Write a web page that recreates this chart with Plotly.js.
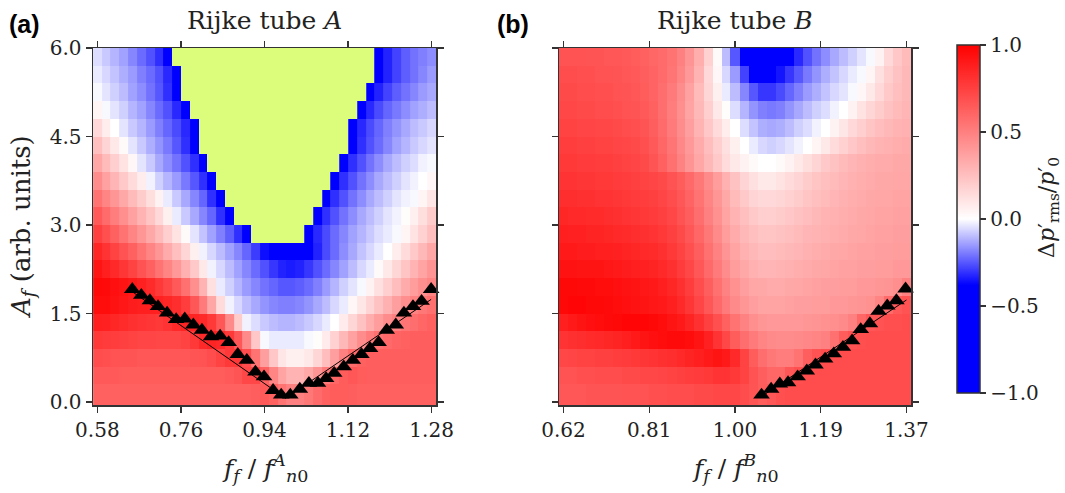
<!DOCTYPE html>
<html><head><meta charset="utf-8">
<script src="https://cdn.plot.ly/plotly-3.0.1.min.js"></script>
<style>html,body{margin:0;padding:0;background:#fff}#chart{width:1065px;height:493px}</style>
</head><body><div id="chart"></div>
<script>
// U marks cells below the colour range (drawn yellow-green)
const U = -150;
// column centres (forcing frequency ratio)
const xA = [0.580,0.598,0.617,0.635,0.654,0.672,0.691,0.709,0.727,0.746,0.764,0.783,0.801,0.819,0.838,0.856,0.875,0.893,0.912,0.930,0.948,0.967,0.985,1.004,1.022,1.041,1.059,1.077,1.096,1.114,1.133,1.151,1.169,1.188,1.206,1.225,1.243,1.262,1.280];
const xB = [0.620,0.640,0.659,0.679,0.699,0.719,0.738,0.758,0.778,0.798,0.817,0.837,0.857,0.877,0.896,0.916,0.936,0.956,0.975,0.995,1.015,1.035,1.054,1.074,1.094,1.113,1.133,1.153,1.173,1.192,1.212,1.232,1.252,1.271,1.291,1.311,1.331,1.350,1.370];
// row edges (forcing amplitude), bottom to top
const yEdges = [-0.05,0.3,0.6,0.9,1.2,1.5,1.8,2.1,2.4,2.7,3.0,3.3,3.6,3.9,4.2,4.5,4.8,5.1,5.4,5.7,6.0];
// Delta p'rms / p'0 in hundredths, rows listed from top (A=5.85) to bottom (A=0.15)
const zA = [
[-5,-8,-11,-14,-18,-22,-26,-31,-45,U,U,U,U,U,U,U,U,U,U,U,U,U,U,U,U,U,U,U,U,U,U,U,-45,-33,-28,-24,-21,-19,-17],
[-3,-6,-9,-12,-15,-19,-22,-26,-32,-45,U,U,U,U,U,U,U,U,U,U,U,U,U,U,U,U,U,U,U,U,U,U,-45,-33,-28,-24,-21,-18,-15],
[-1,-4,-7,-10,-14,-17,-21,-25,-31,-45,U,U,U,U,U,U,U,U,U,U,U,U,U,U,U,U,U,U,U,U,U,-45,-33,-28,-24,-21,-18,-15,-13],
[4,-1,-4,-7,-11,-14,-18,-22,-26,-32,-45,U,U,U,U,U,U,U,U,U,U,U,U,U,U,U,U,U,U,U,-45,-32,-27,-23,-20,-17,-14,-12,-10],
[15,7,0,-4,-8,-11,-15,-19,-23,-27,-32,-45,U,U,U,U,U,U,U,U,U,U,U,U,U,U,U,U,U,-45,-32,-27,-23,-19,-16,-13,-10,-8,-6],
[25,17,9,2,-4,-8,-12,-16,-20,-25,-31,-45,U,U,U,U,U,U,U,U,U,U,U,U,U,U,U,U,U,-45,-31,-26,-22,-18,-14,-11,-8,-6,-4],
[35,27,19,11,3,-4,-8,-13,-17,-21,-26,-31,-45,U,U,U,U,U,U,U,U,U,U,U,U,U,U,U,-45,-31,-26,-21,-17,-13,-10,-7,-5,-2,-1],
[45,37,29,21,14,7,-2,-7,-11,-15,-20,-25,-31,-45,U,U,U,U,U,U,U,U,U,U,U,U,U,-45,-31,-26,-21,-17,-13,-10,-7,-4,-2,0,3],
[55,48,41,34,27,20,13,5,-3,-8,-13,-18,-23,-31,-45,U,U,U,U,U,U,U,U,U,U,U,-45,-31,-26,-21,-17,-13,-10,-7,-4,-2,-1,4,10],
[65,58,51,44,37,30,23,15,6,-3,-8,-13,-18,-23,-31,-45,U,U,U,U,U,U,U,U,U,-45,-31,-26,-21,-17,-13,-10,-7,-4,-2,1,6,13,20],
[75,69,62,55,48,41,34,27,19,11,2,-4,-9,-14,-19,-24,-31,-45,U,U,U,U,U,U,-45,-32,-27,-22,-18,-14,-11,-8,-5,-3,-1,4,11,18,25],
[85,80,74,68,62,55,48,41,33,25,16,6,-2,-6,-10,-14,-18,-23,-29,-36,-43,-47,-48,-46,-40,-33,-27,-22,-17,-13,-9,-6,-3,0,7,14,21,28,35],
[92,88,84,79,74,68,62,55,48,40,31,21,9,-2,-6,-10,-14,-18,-22,-26,-30,-33,-34,-33,-30,-26,-22,-18,-14,-10,-6,-3,2,9,16,23,30,36,42],
[97,96,94,92,90,87,83,78,72,65,56,44,30,12,-3,-7,-11,-15,-18,-21,-23,-25,-25,-24,-22,-19,-15,-11,-7,-4,-1,5,12,19,26,33,39,44,48],
[95,95,93,91,89,88,88,87,85,82,76,66,52,35,14,-2,-6,-10,-13,-16,-18,-19,-19,-18,-16,-13,-10,-6,-3,3,10,17,24,31,38,44,49,53,56],
[88,87,85,83,81,80,79,78,80,84,86,86,84,78,66,46,20,-2,-5,-8,-10,-11,-11,-10,-8,-6,-3,0,8,16,24,32,39,45,50,54,57,60,62],
[78,77,76,75,74,73,73,72,72,72,74,78,84,86,84,78,66,46,22,-1,-3,-3,-3,-3,-1,1,8,18,28,37,45,51,56,59,61,62,63,63,63],
[70,69,68,67,67,66,66,66,66,66,66,67,68,70,74,78,78,70,55,38,22,10,6,6,9,16,26,38,50,58,62,63,63,63,63,63,63,63,63],
[65,65,65,64,64,64,64,64,64,64,64,64,64,64,64,65,67,72,72,62,48,36,30,30,34,42,52,60,64,66,64,63,63,63,63,63,63,63,63],
[62,62,62,62,62,62,62,62,62,62,62,62,62,62,62,62,62,62,63,65,62,55,50,50,53,58,62,64,64,63,62,62,62,62,62,62,62,62,62]
];
const zB = [
[68,68,68,67,67,66,66,65,64,62,60,58,55,50,42,32,18,2,-10,-25,-45,-55,-55,-55,-50,-40,-32,-26,-21,-17,-13,-10,-7,-4,-1,5,15,22,27],
[70,70,69,69,68,68,67,66,65,63,61,58,54,48,40,30,15,3,-6,-15,-28,-38,-42,-40,-35,-30,-25,-20,-16,-12,-9,-6,-3,-1,4,12,19,24,28],
[71,71,70,70,69,69,68,67,66,64,61,57,52,45,37,27,16,6,-3,-10,-18,-25,-30,-30,-27,-23,-19,-15,-12,-9,-6,-4,-1,3,9,15,21,25,28],
[72,72,71,71,70,70,69,68,67,65,62,57,51,44,36,28,19,9,1,-5,-11,-16,-19,-20,-19,-16,-13,-10,-7,-5,-2,0,5,11,16,20,24,27,29],
[74,74,73,73,72,72,71,70,69,67,63,58,52,45,38,30,22,14,7,0,-5,-9,-12,-13,-12,-10,-7,-5,-2,0,5,10,15,19,23,26,28,30,31],
[76,76,75,75,74,74,73,72,71,69,65,60,54,47,40,33,26,19,12,6,0,-3,-6,-7,-6,-4,-2,0,4,9,14,18,22,25,28,30,31,32,33],
[78,78,77,77,76,76,75,74,73,71,67,62,56,49,42,35,28,21,14,9,5,2,0,0,2,5,9,13,17,21,24,27,29,31,32,33,33,34,34],
[80,80,79,79,78,78,77,76,75,74,73,71,68,64,59,53,46,39,31,24,17,12,9,9,11,14,17,20,23,25,27,29,31,32,33,34,34,35,35],
[82,82,81,81,80,80,79,78,77,76,75,73,70,66,61,55,48,41,34,27,21,17,15,15,16,18,20,23,25,27,29,31,32,33,34,35,35,36,36],
[85,84,84,83,83,82,81,80,79,78,77,75,72,68,63,57,50,43,36,30,25,21,19,19,20,22,24,26,28,30,31,32,33,34,35,36,36,37,37],
[88,87,87,86,86,85,84,83,82,81,80,78,75,71,66,60,53,46,39,33,28,25,23,23,24,25,27,29,30,31,32,33,34,35,36,37,37,38,38],
[90,90,89,89,88,88,87,86,85,84,83,81,78,74,69,63,56,49,42,36,31,28,26,26,27,28,29,31,32,33,34,35,36,37,37,38,38,39,39],
[93,93,92,92,92,91,90,89,88,87,86,84,81,77,72,66,59,52,45,39,34,31,29,29,30,31,32,33,34,35,36,37,37,38,38,39,39,40,40],
[97,97,96,96,95,95,94,93,92,91,90,88,85,81,76,70,63,56,49,43,38,35,34,33,33,34,35,36,37,38,38,39,39,40,40,41,42,44,50],
[97,98,98,97,97,96,95,94,93,92,91,90,88,84,79,73,66,59,52,46,41,38,36,36,36,37,38,38,39,39,40,40,41,42,43,48,58,65,68],
[88,90,92,94,95,96,97,98,98,98,97,95,92,90,86,81,75,69,62,55,49,44,41,40,40,40,40,41,42,43,44,46,50,60,66,68,69,69,70],
[80,81,82,83,84,85,86,88,90,92,94,95,96,96,95,92,87,80,72,64,57,52,48,46,45,45,46,47,48,50,56,64,68,69,70,70,70,70,70],
[72,73,74,74,75,75,76,77,78,79,80,81,82,84,86,88,90,92,90,84,74,64,57,53,51,51,55,63,68,70,70,70,70,70,70,70,70,70,70],
[68,68,69,69,70,70,70,71,71,72,72,73,74,75,76,77,78,80,80,78,74,68,63,60,60,66,69,70,70,70,70,70,70,70,70,70,70,70,70],
[66,66,66,67,67,67,67,68,68,68,69,69,70,70,70,71,71,72,72,72,70,67,64,66,69,70,70,70,70,70,70,70,70,70,70,70,70,70,70]
];
// bifurcation points (triangles)
const triAx = [0.653,0.672,0.690,0.707,0.726,0.745,0.763,0.781,0.799,0.818,0.837,0.855,0.874,0.893,0.911,0.929,0.948,0.965,0.984,1.004,1.023,1.042,1.059,1.076,1.096,1.115,1.133,1.151,1.169,1.186,1.205,1.222,1.241,1.259,1.279];
const triAy = [1.91,1.81,1.72,1.62,1.51,1.40,1.41,1.31,1.22,1.11,1.12,1.01,0.81,0.71,0.51,0.43,0.20,0.12,0.12,0.22,0.32,0.32,0.40,0.49,0.60,0.71,0.81,0.91,1.01,1.22,1.31,1.51,1.62,1.71,1.91];
const triBx = [1.053,1.074,1.093,1.111,1.132,1.152,1.171,1.192,1.211,1.231,1.251,1.270,1.290,1.309,1.328,1.348,1.368];
const triBy = [0.12,0.22,0.31,0.33,0.43,0.53,0.63,0.73,0.82,0.93,1.04,1.23,1.33,1.54,1.63,1.72,1.92];
// linear fits
const fitA1x = [0.653,0.975], fitA1y = [1.87,0.06];
const fitA2x = [0.990,1.279], fitA2y = [0.15,1.74];
const fitBx = [1.060,1.370], fitBy = [0.13,1.73];
// tick labels
const tickA = ['0.58','0.76','0.94','1.12','1.28'];
const tickB = ['0.62','0.81','1.00','1.19','1.37'];
const tickY = ['0.0','1.5','3.0','4.5','6.0'];
const tickC = ['\u22121.0','\u22120.5','0.0','0.5','1.0'];

const YG = '#dcfc7c';
const CS = [[0,'rgb(0,0,255)'],[0.31,'rgb(0,0,255)'],[0.5,'rgb(255,255,255)'],[1,'rgb(255,0,0)']];
function field(rows){ return rows.slice().reverse().map(r => r.map(v => v <= U ? null : v/100)); }
function under(rows){ return rows.slice().reverse().map(r => r.map(v => v <= U ? 1 : null)); }
function evenTicks(lo, hi, n){ const out=[]; for(let i=0;i<n;i++) out.push(lo+(hi-lo)*i/(n-1)); return out; }

const traces = [
  {type:'heatmap', x:xA, y:yEdges, z:field(zA), coloraxis:'coloraxis', xaxis:'x', yaxis:'y', hoverinfo:'skip'},
  {type:'heatmap', x:xA, y:yEdges, z:under(zA), colorscale:[[0,YG],[1,YG]], showscale:false, xaxis:'x', yaxis:'y', hoverinfo:'skip'},
  {type:'heatmap', x:xB, y:yEdges, z:field(zB), coloraxis:'coloraxis', xaxis:'x2', yaxis:'y2', hoverinfo:'skip'},
  {type:'scatter', mode:'lines', x:fitA1x, y:fitA1y, line:{color:'#000', width:1}, xaxis:'x', yaxis:'y'},
  {type:'scatter', mode:'lines', x:fitA2x, y:fitA2y, line:{color:'#000', width:1}, xaxis:'x', yaxis:'y'},
  {type:'scatter', mode:'lines', x:fitBx, y:fitBy, line:{color:'#000', width:1}, xaxis:'x2', yaxis:'y2'},
  {type:'scatter', mode:'markers', x:triAx, y:triAy, marker:{symbol:'triangle-up', size:14.5, color:'#000'}, cliponaxis:false, xaxis:'x', yaxis:'y'},
  {type:'scatter', mode:'markers', x:triBx, y:triBy, marker:{symbol:'triangle-up', size:14.5, color:'#000'}, cliponaxis:false, xaxis:'x2', yaxis:'y2'}
];

const W = 1065, H = 493;
const axBase = {ticks:'outside', ticklen:6, tickwidth:1.5, tickcolor:'#333', showline:true, linecolor:'#333', linewidth:1.5, mirror:'ticks', showgrid:false, zeroline:false, tickfont:{family:'DejaVu Serif', size:20, color:'#222'}};
const yDom = [1-405/H, 1-48/H];
const layout = {
  width:W, height:H, margin:{l:0,r:0,t:0,b:0}, paper_bgcolor:'#fff', plot_bgcolor:'#fff',
  showlegend:false, font:{family:'DejaVu Serif', size:20, color:'#222'},
  coloraxis:{cmin:-1, cmax:1, colorscale:CS, colorbar:{x:957/W, xanchor:'left', xpad:0, ypad:0, y:1-219/H, yanchor:'middle', len:348/H, lenmode:'fraction', thickness:23, thicknessmode:'pixels', outlinewidth:1.5, outlinecolor:'#333', ticks:'outside', ticklen:6, tickwidth:1.5, tickcolor:'#333', tickvals:[-1,-0.5,0,0.5,1], ticktext:tickC, tickfont:{family:'DejaVu Serif', size:20, color:'#222'}}},
  xaxis:Object.assign({}, axBase, {domain:[93/W, 436/W], range:[0.5708,1.2892], tickvals:evenTicks(0.58,1.28,5), ticktext:tickA, anchor:'y'}),
  yaxis:Object.assign({}, axBase, {domain:yDom, range:[-0.05,6.0], tickvals:[0,1.5,3,4.5,6], ticktext:tickY, anchor:'x'}),
  xaxis2:Object.assign({}, axBase, {domain:[559/W, 911/W], range:[0.6101,1.3799], tickvals:evenTicks(0.62,1.37,5), ticktext:tickB, anchor:'y2'}),
  yaxis2:Object.assign({}, axBase, {domain:yDom, range:[-0.05,6.0], tickvals:[0,1.5,3,4.5,6], showticklabels:false, anchor:'x2'}),
  annotations:[
    {text:'<b>(a)</b>', x:24/W, y:1-24/H, xref:'paper', yref:'paper', showarrow:false, xanchor:'center', yanchor:'middle', font:{family:'Liberation Sans', size:25, color:'#000'}},
    {text:'<b>(b)</b>', x:513/W, y:1-24/H, xref:'paper', yref:'paper', showarrow:false, xanchor:'center', yanchor:'middle', font:{family:'Liberation Sans', size:25, color:'#000'}},
    {text:'Rijke tube <i>A</i>', x:264.5/W, y:1-20/H, xref:'paper', yref:'paper', showarrow:false, xanchor:'center', yanchor:'middle', font:{size:25}},
    {text:'Rijke tube <i>B</i>', x:735/W, y:1-20/H, xref:'paper', yref:'paper', showarrow:false, xanchor:'center', yanchor:'middle', font:{size:25}},
    {text:'<i>A</i><sub><i>f</i></sub> (arb. units)', x:22/W, y:1-227/H, xref:'paper', yref:'paper', showarrow:false, textangle:-90, xanchor:'center', yanchor:'middle', font:{size:26}},
    {text:'<i>f</i><sub><i>f</i></sub> / <i>f</i><sup><i>A</i></sup><sub><i>n</i>0</sub>', x:264.5/W, y:1-468/H, xref:'paper', yref:'paper', showarrow:false, xanchor:'center', yanchor:'middle', font:{size:25}},
    {text:'<i>f</i><sub><i>f</i></sub> / <i>f</i><sup><i>B</i></sup><sub><i>n</i>0</sub>', x:735/W, y:1-468/H, xref:'paper', yref:'paper', showarrow:false, xanchor:'center', yanchor:'middle', font:{size:25}},
    {text:'\u0394<i>p</i>\u2032<sub>rms</sub>/<i>p</i>\u2032<sub>0</sub>', x:1048/W, y:1-208/H, xref:'paper', yref:'paper', showarrow:false, textangle:-90, xanchor:'center', yanchor:'middle', font:{size:22}}
  ]
};
Plotly.newPlot('chart', traces, layout, {staticPlot:true, displayModeBar:false});
</script>
</body></html>
